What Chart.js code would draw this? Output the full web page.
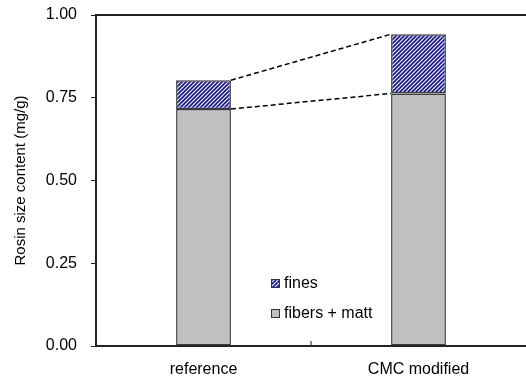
<!DOCTYPE html>
<html>
<head>
<meta charset="utf-8">
<script src="https://cdn.jsdelivr.net/npm/chart.js@4"></script>
<style>
  html, body { margin: 0; padding: 0; background: #fff; }
  #wrap { width: 526px; height: 382px; }
</style>
</head>
<body>
<div id="wrap"><canvas id="chart" width="526" height="382"></canvas></div>
<script>
// ===== Data =====
const categories = ['reference', 'CMC modified'];
const fibersMatt = [0.716, 0.763];
const fines = [0.087, 0.179];
const seriesLabels = ['fibers + matt', 'fines'];
const yTicks = [0, 0.25, 0.5, 0.75, 1.0];

const FONT = 'Liberation Sans, Arial, sans-serif';

// hatch fill for "fines"
function makeHatch() {
    const c = document.createElement('canvas');
    c.width = 4; c.height = 4;
    const g = c.getContext('2d');
    g.fillStyle = '#f4f4ff';
    g.fillRect(0, 0, 4, 4);
    g.strokeStyle = '#141490';
    g.lineWidth = 1.6;
    g.beginPath();
    g.moveTo(-1, 5); g.lineTo(5, -1);
    g.moveTo(-1, 1); g.lineTo(1, -1);
    g.moveTo(3, 5); g.lineTo(5, 3);
    g.stroke();
    return g.createPattern(c, 'repeat');
}
const hatch = makeHatch();

// dashed connectors, top border, mid tick and the inline legend
const extras = {
    id: 'extras',
    afterDatasetsDraw(chart) {
        const ctx = chart.ctx;
        const x = chart.scales.x, y = chart.scales.y;
        const area = chart.chartArea;
        const m0 = chart.getDatasetMeta(0).data;
        ctx.save();
        // connectors
        ctx.strokeStyle = '#000';
        ctx.lineWidth = 1.5;
        ctx.setLineDash([5, 3]);
        const x1 = m0[0].x + m0[0].width / 2;
        const x2 = m0[1].x - m0[1].width / 2;
        ctx.beginPath();
        ctx.moveTo(x1, y.getPixelForValue(fibersMatt[0]));
        ctx.lineTo(x2, y.getPixelForValue(fibersMatt[1]));
        ctx.moveTo(x1, y.getPixelForValue(fibersMatt[0] + fines[0]));
        ctx.lineTo(x2, y.getPixelForValue(fibersMatt[1] + fines[1]));
        ctx.stroke();
        ctx.setLineDash([]);
        // top border
        ctx.lineWidth = 2;
        ctx.strokeStyle = '#222';
        ctx.beginPath();
        ctx.moveTo(area.left, area.top);
        ctx.lineTo(area.right, area.top);
        ctx.stroke();
        // mid tick on x axis
        const mid = (x.getPixelForValue(0) + x.getPixelForValue(1)) / 2;
        ctx.lineWidth = 1;
        ctx.beginPath();
        ctx.moveTo(mid, area.bottom);
        ctx.lineTo(mid, area.bottom - 5);
        ctx.stroke();
        // legend
        const items = [
            { label: seriesLabels[1], fill: hatch, y: 283 },
            { label: seriesLabels[0], fill: '#c0c0c0', y: 313 }
        ];
        ctx.font = '16px ' + FONT;
        ctx.textBaseline = 'middle';
        items.forEach(it => {
            ctx.fillStyle = it.fill;
            ctx.fillRect(271, it.y - 4, 9, 9);
            ctx.strokeStyle = '#333';
            ctx.lineWidth = 1;
            ctx.strokeRect(271.5, it.y - 3.5, 8, 8);
            ctx.fillStyle = '#000';
            ctx.fillText(it.label, 284, it.y + 1);
        });
        ctx.restore();
    }
};

new Chart(document.getElementById('chart'), {
    type: 'bar',
    data: {
        labels: categories,
        datasets: [
            {
                label: seriesLabels[0],
                data: fibersMatt,
                backgroundColor: '#c0c0c0',
                borderColor: '#3a3a3a',
                borderWidth: 1.5,
                borderSkipped: false
            },
            {
                label: seriesLabels[1],
                data: fines,
                backgroundColor: hatch,
                borderColor: '#3a3a3a',
                borderWidth: 1.5,
                borderSkipped: false
            }
        ]
    },
    options: {
        responsive: false,
        animation: false,
        layout: { padding: { left: 12, right: 0, top: 0, bottom: 0 } },
        plugins: {
            legend: { display: false },
            tooltip: { enabled: false }
        },
        datasets: {
            bar: { barPercentage: 0.255, categoryPercentage: 1 }
        },
        scales: {
            x: {
                stacked: true,
                grid: { display: false },
                border: { color: '#222', width: 2 },
                ticks: { color: '#000', font: { family: FONT, size: 16 }, padding: 6 },
                afterFit(s) { s.height = 36; s.paddingLeft = 0; s.paddingRight = 0; }
            },
            y: {
                stacked: true,
                min: 0,
                max: 1,
                afterBuildTicks(s) { s.ticks = yTicks.map(v => ({ value: v })); },
                grid: { drawOnChartArea: false, tickLength: 5, color: '#222' },
                border: { color: '#222', width: 2 },
                ticks: {
                    color: '#000',
                    font: { family: FONT, size: 16 },
                    padding: 14,
                    callback: v => v.toFixed(2)
                },
                title: {
                    display: true,
                    text: 'Rosin size content (mg/g)',
                    color: '#000',
                    font: { family: FONT, size: 15 },
                    padding: { top: 0, bottom: 0 }
                },
                afterFit(s) { s.width = 84; s.paddingTop = 15; s.paddingBottom = 0; }
            }
        }
    },
    plugins: [extras]
});
</script>
</body>
</html>
